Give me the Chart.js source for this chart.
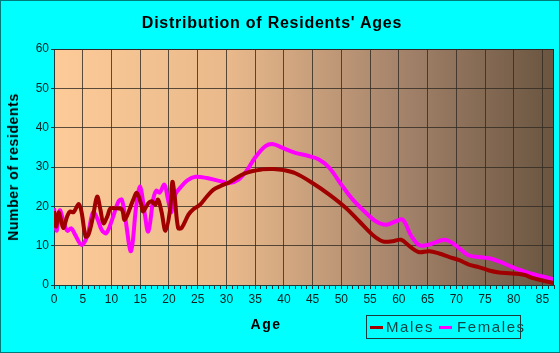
<!DOCTYPE html>
<html>
<head>
<meta charset="utf-8">
<script src="https://cdn.jsdelivr.net/npm/chart.js@4.4.1/dist/chart.umd.min.js"></script>
<style>
  html, body { margin: 0; padding: 0; background: #00ffff; }
  #wrap { position: relative; width: 560px; height: 353px; font-family: "Liberation Sans", Arial, sans-serif; }
  #chart { position: absolute; left: 0; top: 0; }
  .lbl { position: absolute; white-space: nowrap; color: #000; }
  #title { left: 272px; top: 23px; transform: translate(-50%, -50%); font-weight: bold; font-size: 16px; letter-spacing: 0.75px; }
  #ytitle { left: 13px; top: 167px; transform: translate(-50%, -50%) rotate(-90deg); font-weight: bold; font-size: 14px; letter-spacing: 0.6px; }
  #xtitle { left: 266px; top: 324px; transform: translate(-50%, -50%); font-weight: bold; font-size: 14px; letter-spacing: 1.5px; }
  #legend { position: absolute; left: 367px; top: 316px; width: 153px; height: 22px; outline: 1px solid #1a3c3c; }
  .item { position: absolute; top: 2px; font-size: 15px; letter-spacing: 1.6px; color: #0b4747; }
  .swatch { position: absolute; top: 10px; width: 13px; height: 3px; }
</style>
</head>
<body>
<div id="wrap">
  <canvas id="chart" width="560" height="353"></canvas>
  <div class="lbl" id="title">Distribution of Residents' Ages</div>
  <div class="lbl" id="ytitle">Number of residents</div>
  <div class="lbl" id="xtitle">Age</div>
  <div id="legend">
    <div class="swatch" style="left:3px;background:#a00000"></div>
    <div class="item" style="left:19px">Males</div>
    <div class="swatch" style="left:72px;background:#ff00ff"></div>
    <div class="item" style="left:90px">Females</div>
  </div>
</div>
<script>
const maleAges = [0, 0.35, 0.85, 1.6, 2.3, 2.8, 3.4, 4.3, 4.8, 5.5, 6.0, 6.8, 7.5, 8.1, 8.6, 9.3, 9.8, 10.6, 11.8, 12.3,
  13.8, 14.4, 15.2, 15.5, 16.4, 17.0, 17.6, 18.1, 18.7, 19.4, 20.2, 20.6, 21.0, 21.6, 22.2, 23.4, 24.2, 25.4, 26.6, 27.7,
  28.9, 30.6, 33.2, 36.2, 38.2, 40, 42, 44.9, 47.9, 50.8, 53.1, 55.4, 57.2, 58.9, 60.4, 61.9, 63.4, 65.3, 67, 68.8,
  70.5, 72.2, 74, 75.7, 77.4, 79.2, 80.9, 82, 83.2, 85, 87];
const maleCounts = [18.8, 14.8, 18.5, 14.5, 17.5, 18.7, 18.5, 20.6, 18.5, 12.3, 12.8, 17.5, 22.5, 19, 15.7, 17.5, 19.5, 19.5, 19.2, 16.6,
  21.7, 23.4, 20.4, 18.7, 20.8, 21.3, 20.4, 21.7, 18.7, 13.8, 19.2, 26.2, 22.5, 14.5, 14.5, 17.9, 19.2, 20.4, 22.5, 24.2,
  25.1, 26.2, 28.4, 29.4, 29.5, 29.2, 28.4, 26, 23, 19.6, 16.2, 12.8, 11.1, 11.1, 11.5, 9.8, 8.4, 8.6, 8, 7.1,
  6.3, 5.2, 4.5, 3.7, 3.2, 3, 2.8, 2.5, 1.8, 1.1, 0.5];

const femaleAges = [0, 0.45, 1.0, 1.6, 2.3, 3.0, 3.6, 4.8, 5.8, 6.8, 7.5, 8.3, 9.1, 10.2, 11.2, 11.8, 12.4, 13.4, 14.3, 15.0,
  15.7, 16.4, 17.3, 17.8, 18.4, 19.2, 19.8, 20.4, 21.1, 22.0, 23.2, 24.6, 26.6, 28.9, 30.5, 32.1, 33.5, 35, 36.8, 38.2,
  39.7, 42, 44.3, 46.1, 47.9, 50.2, 52, 54.3, 56, 57.8, 59.5, 60.7, 62.2, 63.6, 65.3, 67.9, 69.3, 70.8, 72.2, 74,
  75.7, 77.4, 79.2, 80.9, 83.2, 85, 87];
const femaleCounts = [19.5, 13.8, 19, 16.5, 13.8, 14.4, 13, 10.2, 12.5, 18.5, 17, 14, 13.2, 17, 21.2, 21.7, 17, 8.6, 20, 25,
  19, 13.6, 22, 24, 23.5, 25.5, 22, 18.5, 23, 24.8, 26.6, 27.5, 27.2, 26.4, 25.9, 26.8, 29, 32.4, 35.3, 35.8,
  34.9, 33.6, 32.8, 31.9, 29.8, 25.1, 21.7, 18.3, 16.2, 15.3, 16.2, 16.6, 12.4, 10.1, 10.3, 11.5, 10.7, 9, 7.5, 7.1,
  6.8, 6, 4.9, 3.9, 2.8, 2.2, 1.4];

const yTicks = [0, 10, 20, 30, 40, 50, 60];
const xTickLabels = [0, 5, 10, 15, 20, 25, 30, 35, 40, 45, 50, 55, 60, 65, 70, 75, 80, 85];

function toPoints(xs, ys) {
  return xs.map((x, i) => ({ x: x, y: ys[i] }));
}

// plot background gradient + outer frame
const backdrop = {
  id: 'backdrop',
  beforeDraw(chart) {
    const { ctx, chartArea: a } = chart;
    ctx.save();
    ctx.fillStyle = '#00ffff';
    ctx.fillRect(0, 0, chart.width, chart.height);
    ctx.strokeStyle = '#007a7a';
    ctx.lineWidth = 1;
    ctx.strokeRect(0.5, 0.5, chart.width - 1, chart.height - 1);
    const g = ctx.createLinearGradient(a.left, 0, a.right, 0);
    g.addColorStop(0, '#fdcb98');
    g.addColorStop(0.35, '#e9b98b');
    g.addColorStop(0.7, '#a3826a');
    g.addColorStop(1, '#6a5540');
    ctx.fillStyle = g;
    ctx.fillRect(a.left, a.top, a.right - a.left, a.bottom - a.top);
    ctx.restore();
  },
  afterDatasetsDraw(chart) {
    const { ctx, chartArea: a } = chart;
    ctx.save();
    ctx.strokeStyle = '#2b2b2b';
    ctx.lineWidth = 1;
    ctx.beginPath();
    ctx.moveTo(a.left, a.top + 0.5);
    ctx.lineTo(a.right - 0.5, a.top + 0.5);
    ctx.lineTo(a.right - 0.5, a.bottom);
    ctx.stroke();
    ctx.restore();
  }
};

new Chart(document.getElementById('chart'), {
  type: 'line',
  data: {
    datasets: [
      {
        label: 'Males',
        data: toPoints(maleAges, maleCounts),
        borderColor: '#a00000',
        borderWidth: 4,
        pointRadius: 0,
        tension: 0.35,
        order: 1
      },
      {
        label: 'Females',
        data: toPoints(femaleAges, femaleCounts),
        borderColor: '#ff00ff',
        borderWidth: 4,
        pointRadius: 0,
        tension: 0.35,
        order: 2
      }
    ]
  },
  options: {
    responsive: false,
    animation: false,
    layout: { padding: { top: 49, right: 6, left: 0, bottom: 0 } },
    plugins: { legend: { display: false }, title: { display: false }, tooltip: { enabled: false } },
    scales: {
      x: {
        type: 'linear',
        min: 0,
        max: 87,
        afterFit(scale) { scale.height = 68; },
        afterBuildTicks(scale) {
          const t = [];
          for (let v = 0; v <= 87; v++) t.push({ value: v });
          scale.ticks = t;
        },
        border: { color: '#1f3a3a', width: 1 },
        grid: {
          color: (c) => (c.tick && c.tick.value % 5 === 0 && c.tick.value > 0 ? 'rgba(50,42,34,0.8)' : 'rgba(0,0,0,0)'),
          tickColor: '#1f3a3a',
          tickLength: 4,
          drawOnChartArea: true
        },
        ticks: {
          autoSkip: false,
          maxRotation: 0,
          padding: 3,
          color: '#0d2020',
          font: { family: '"Liberation Sans", Arial, sans-serif', size: 12 },
          callback: (v) => (xTickLabels.includes(v) ? String(v) : '')
        }
      },
      y: {
        min: 0,
        max: 60,
        afterFit(scale) { scale.width = 54; },
        afterBuildTicks(scale) { scale.ticks = yTicks.map((v) => ({ value: v })); },
        border: { color: '#1f3a3a', width: 1 },
        grid: {
          color: (c) => (c.tick && c.tick.value > 0 ? 'rgba(50,42,34,0.8)' : 'rgba(0,0,0,0)'),
          tickColor: '#1f3a3a',
          tickLength: 3
        },
        ticks: {
          padding: 2,
          color: '#0d2020',
          font: { family: '"Liberation Sans", Arial, sans-serif', size: 12 }
        }
      }
    }
  },
  plugins: [backdrop]
});
</script>
</body>
</html>
